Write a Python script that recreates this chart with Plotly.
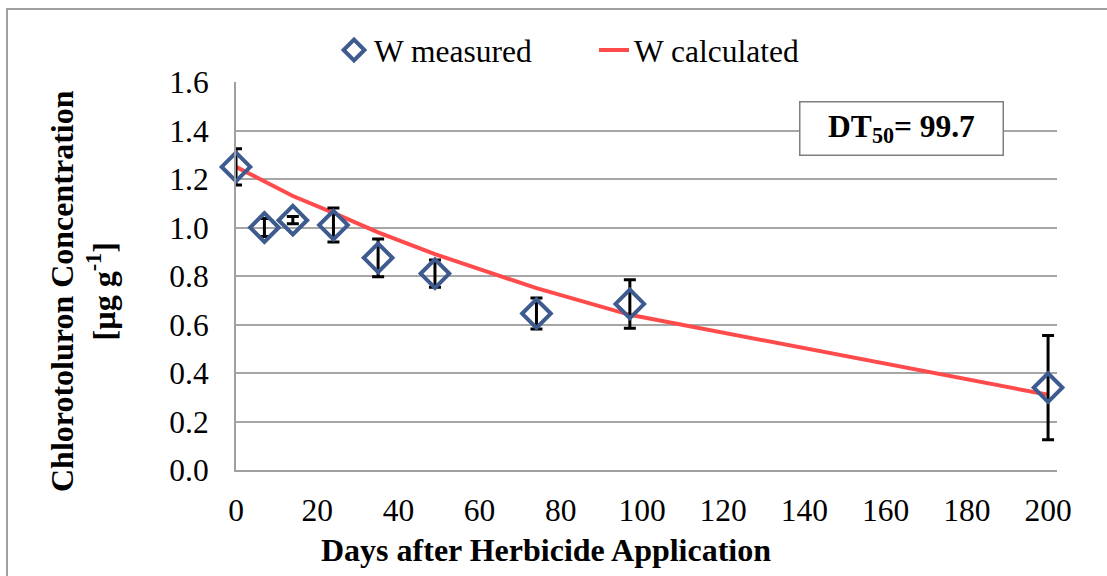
import plotly.graph_objects as go

days = [0, 7, 14, 24, 35, 49, 74, 97, 200]
measured = [1.25, 1.00, 1.03, 1.01, 0.875, 0.81, 0.645, 0.685, 0.34]
measured_err = [0.075, 0.037, 0.015, 0.07, 0.078, 0.056, 0.064, 0.10, 0.215]
calculated = [1.25, 1.19, 1.13, 1.06, 0.98, 0.89, 0.75, 0.64, 0.31]
x_ticks = [0, 20, 40, 60, 80, 100, 120, 140, 160, 180, 200]
y_ticks = [0.0, 0.2, 0.4, 0.6, 0.8, 1.0, 1.2, 1.4, 1.6]

FONT = "Liberation Serif, Times New Roman, serif"

fig = go.Figure()
fig.add_trace(go.Scatter(
    x=days, y=calculated, mode="lines", name="W calculated",
    line=dict(color="#FF4B4B", width=4),
))
fig.add_trace(go.Scatter(
    x=days, y=measured, mode="markers", name="W measured",
    marker=dict(symbol="diamond-open", size=22, color="#3E5B8F",
                line=dict(color="#3E5B8F", width=4)),
    error_y=dict(type="data", array=measured_err, color="black",
                 thickness=3, width=6),
    cliponaxis=False,
))

W, H = 1107, 576
L, R, T, B = 236, 50, 82, 106
pw, ph = W - L - R, H - T - B

def px(x):
    return (x - L) / pw

def py(y):
    return (H - B - y) / ph

fig.update_layout(
    width=W, height=H,
    margin=dict(l=L, r=R, t=T, b=B),
    paper_bgcolor="white", plot_bgcolor="white",
    font=dict(family=FONT, size=32, color="black"),
    showlegend=True,
    legend=dict(orientation="h", x=px(334), xanchor="left",
                y=py(50), yanchor="middle", traceorder="reversed",
                font=dict(size=31.5), bgcolor="rgba(0,0,0,0)",
                entrywidth=215, entrywidthmode="pixels"),
    xaxis=dict(range=[0, 202.2], tickvals=x_ticks,
               ticktext=[str(v) for v in x_ticks],
               showgrid=False, showline=True, linecolor="#A0A0A0",
               linewidth=2, zeroline=False, ticks="",
               ticklabelstandoff=11, tickfont=dict(size=31.5)),
    yaxis=dict(range=[0, 1.6], tickvals=y_ticks,
               ticktext=[f"{v:.1f}" for v in y_ticks],
               showgrid=True, gridcolor="#A6A6A6", gridwidth=2,
               showline=True, linecolor="#A0A0A0", linewidth=2,
               zeroline=False, ticks="", ticklabelstandoff=19,
               tickfont=dict(size=31.5)),
    annotations=[
        dict(text="<b>Days after Herbicide Application</b>",
             xref="paper", yref="paper", x=px(546), y=py(550),
             xanchor="center", yanchor="middle", showarrow=False,
             font=dict(size=32)),
        dict(text="<b>Chlorotoluron Concentration<br>[µg g<sup>-1</sup>]</b>",
             xref="paper", yref="paper", x=px(83), y=py(291),
             xanchor="center", yanchor="middle", showarrow=False,
             textangle=-90, font=dict(size=32)),
        dict(text="<b>DT<sub>50</sub>= 99.7</b>",
             xref="paper", yref="paper", x=px(901), y=py(128),
             xanchor="center", yanchor="middle", showarrow=False,
             bgcolor="white", bordercolor="#7F7F7F", borderwidth=1.5,
             width=200, height=50, font=dict(size=31.5)),
    ],
    shapes=[
        dict(type="rect", xref="paper", yref="paper",
             x0=px(7), x1=px(1112), y0=py(581), y1=py(9),
             line=dict(color="#A0A0A0", width=2), fillcolor="rgba(0,0,0,0)",
             layer="below"),
    ],
)

fig.write_html("out.html")
